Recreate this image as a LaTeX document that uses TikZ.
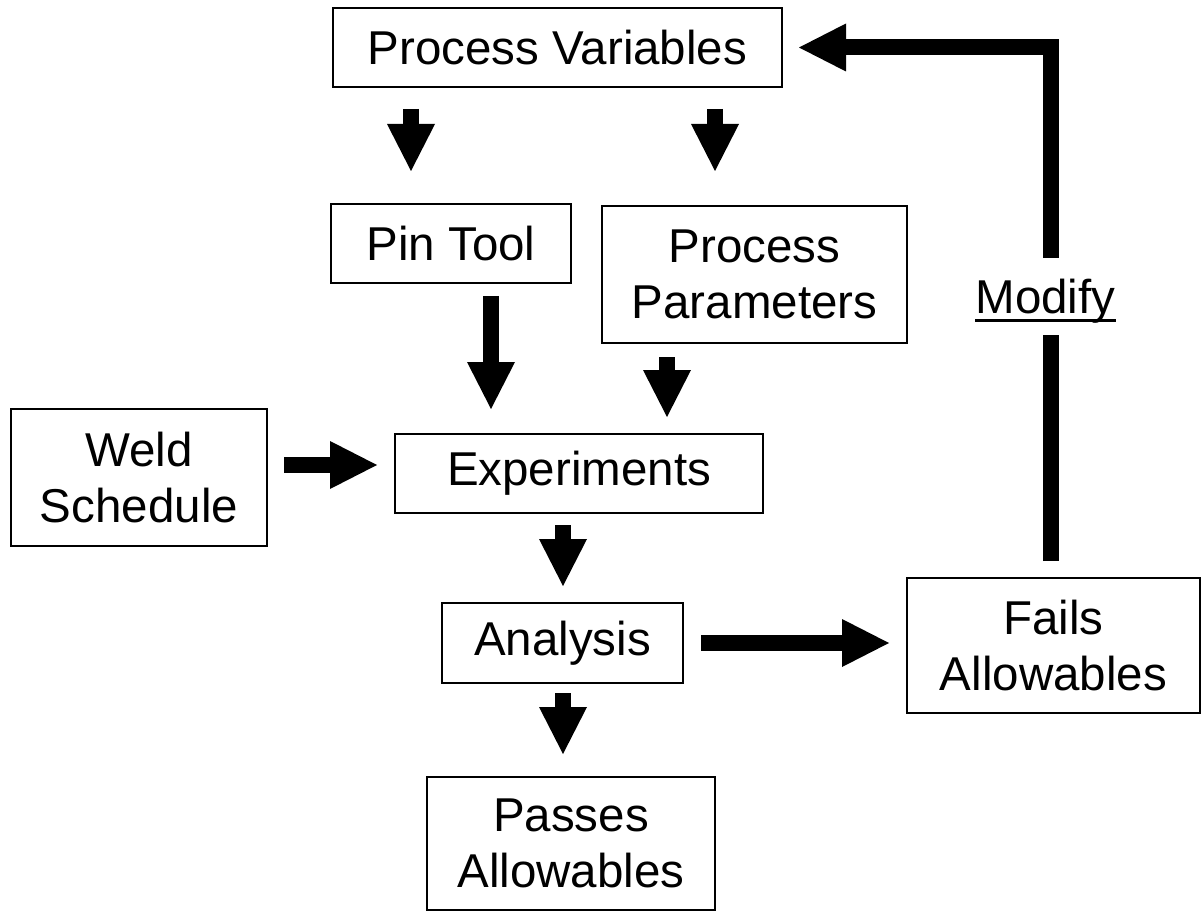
\documentclass[tikz,border=0pt]{standalone}
\usepackage{fontspec}
\setmainfont{Liberation Sans}
\usetikzlibrary{arrows.meta}
\begin{document}
\begin{tikzpicture}[x=1pt,y=-1pt,
  box/.style={draw,line width=2pt,inner sep=0pt,align=center,
    font=\fontsize{47.5pt}{56pt}\selectfont},
  shaft/.style={line width=16pt,line join=miter},
  fat/.style={shaft,-{Triangle[length=47pt,width=48pt,line width=0pt]}}]
\useasboundingbox (0,0) rectangle (1203,912);
% nodes
\node[box,minimum width=449pt,minimum height=79pt] (pv) at (557.5,47.5) {Process Variables};
\node[box,minimum width=240pt,minimum height=79pt] (pin) at (451,243.5) {Pin Tool};
\node[box,minimum width=305pt,minimum height=137pt] (pp) at (754.5,274.5) {Process\\Parameters};
\node[box,minimum width=256pt,minimum height=137pt] (weld) at (139,477.5) {Weld\\Schedule};
\node[box,minimum width=368pt,minimum height=79pt] (exp) at (579,473.5) {Experiments};
\node[box,minimum width=241pt,minimum height=80pt] (ana) at (562.5,643) {Analysis};
\node[box,minimum width=293pt,minimum height=135pt] (fails) at (1053.5,645.5) {Fails\\Allowables};
\node[box,minimum width=288pt,minimum height=133pt] (pass) at (571,843.5) {Passes\\Allowables};
\node[inner sep=0pt,anchor=base,font=\fontsize{47.5pt}{56pt}\selectfont] (mod) at (1045.5,313) {Modify};
\draw[line width=3pt] ([yshift=-8pt]mod.base west) -- ([yshift=-8pt]mod.base east);
% columns
\coordinate (c1) at (411,0);
\coordinate (c2) at (715,0);
\coordinate (c3) at (491,0);
\coordinate (c4) at (667,0);
\coordinate (c5) at (563,0);
\coordinate (cR) at (1051,0);
\coordinate (r1) at (0,465);
\coordinate (m1) at (1051,335);
\coordinate (m2) at (1051,258);
% connectors
\draw[fat,shorten <=21pt,shorten >=32pt] (pv.south -| c1) -- (pin.north -| c1);
\draw[fat,shorten <=21pt,shorten >=34pt] (pv.south -| c2) -- (pp.north -| c2);
\draw[fat,shorten <=12pt,shorten >=24pt] (pin.south -| c3) -- (exp.north -| c3);
\draw[fat,shorten <=13pt,shorten >=16pt] (pp.south -| c4) -- (exp.north -| c4);
\draw[fat,shorten <=16pt,shorten >=17pt] (weld.east |- r1) -- (exp.west |- r1);
\draw[fat,shorten <=11pt,shorten >=16pt] (exp.south -| c5) -- (ana.north -| c5);
\draw[fat,shorten <=9pt,shorten >=22pt] (ana.south -| c5) -- (pass.north -| c5);
\draw[fat,shorten <=17pt,shorten >=17pt] (ana.east) -- (fails.west |- ana.east);
\draw[shaft,shorten <=16pt] (fails.north -| cR) -- (m1);
\draw[fat,shorten >=16pt] (m2) |- (pv.east);
\end{tikzpicture}
\end{document}
